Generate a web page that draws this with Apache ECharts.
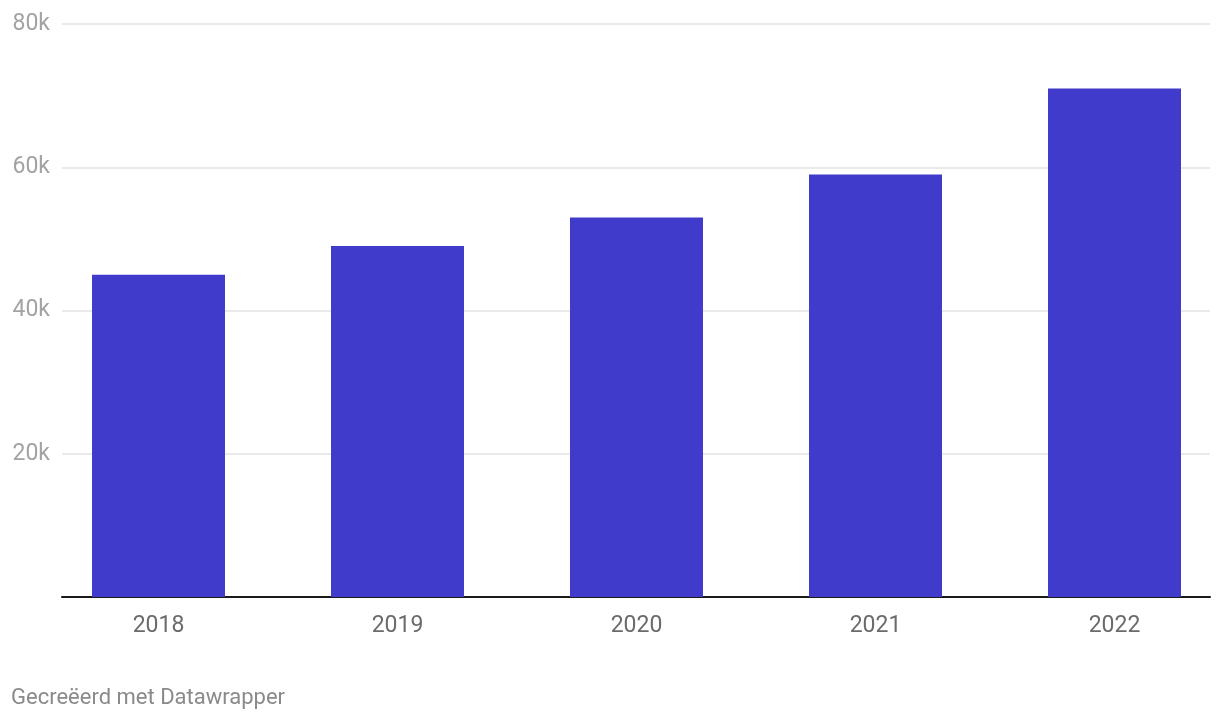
<!DOCTYPE html>
<html>
<head>
<meta charset="utf-8">
<script src="https://cdn.jsdelivr.net/npm/echarts@6/dist/echarts.min.js"></script>
<style>
html,body{margin:0;padding:0;background:#fff;}
#chart{width:1220px;height:720px;}
</style>
</head>
<body>
<div id="chart"></div>
<script>
const categories = ['2018', '2019', '2020', '2021', '2022'];
const values = [45000, 49000, 53000, 59000, 71000];
const yTicks = [0, 20000, 40000, 60000, 80000];
const footerText = 'Gecreëerd met Datawrapper';

const chart = echarts.init(document.getElementById('chart'), null, {renderer: 'canvas'});
const FONT = 'Roboto';
const option = {
  animation: false,
  backgroundColor: '#ffffff',
  grid: [
    {left: 62, right: 10, top: 24, bottom: 123, outerBoundsMode: 'none', containLabel: false},
    {left: 39, width: 1195, top: 24, bottom: 123, outerBoundsMode: 'none', containLabel: false}
  ],
  xAxis: [
    {
      type: 'category', gridIndex: 0, data: categories,
      axisLine: {show: true, lineStyle: {color: '#1a1a1a', width: 2}},
      axisTick: {show: false}, axisLabel: {show: false}, splitLine: {show: false}
    },
    {
      type: 'category', gridIndex: 1, data: categories,
      axisLine: {show: false}, axisTick: {show: false},
      axisLabel: {show: true, color: '#6b6b6b', fontFamily: FONT, fontSize: 23, margin: 18}
    }
  ],
  yAxis: [
    {
      type: 'value', gridIndex: 0, min: yTicks[0], max: yTicks[yTicks.length - 1], interval: 20000,
      axisLine: {show: false}, axisTick: {show: false},
      axisLabel: {
        color: '#a3a3a3', fontFamily: FONT, fontSize: 23, margin: 12,
        formatter: v => v === 0 ? '' : (v / 1000) + 'k'
      },
      splitLine: {show: true, lineStyle: {color: '#e3e3e3', width: 1.5}}
    },
    {
      type: 'value', gridIndex: 1, min: yTicks[0], max: yTicks[yTicks.length - 1], interval: 20000,
      show: false, splitLine: {show: false}
    }
  ],
  series: [
    {
      type: 'bar', xAxisIndex: 1, yAxisIndex: 1, data: values,
      barWidth: 133, itemStyle: {color: '#403bca'}, z: 3
    }
  ],
  graphic: [
    {
      type: 'text', left: 11, top: 687,
      style: {text: footerText, fill: '#8a8a8a', font: '22px Roboto'}
    }
  ]
};
chart.setOption(option);
</script>
</body>
</html>
